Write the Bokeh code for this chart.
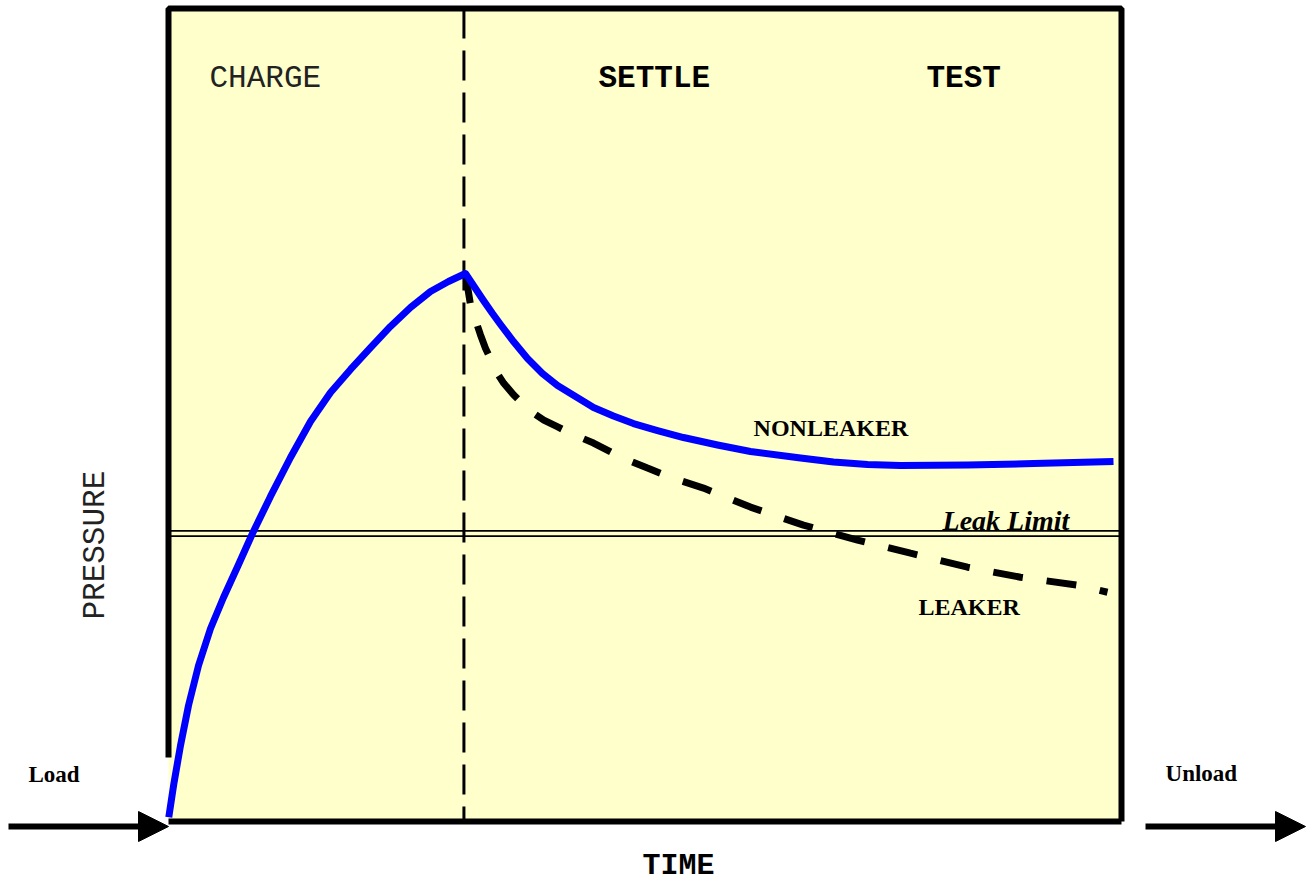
import math
from bokeh.plotting import figure
from bokeh.models import Range1d, Arrow, NormalHead
from bokeh.core.properties import value
from bokeh.embed import file_html
from bokeh.resources import INLINE

# ---- data (time / pressure in arbitrary units: box spans 0..100 on both) ----
charge_t = [0.03, 0.56, 1.26, 2.10, 3.15, 4.41, 5.77, 7.35, 8.81, 10.70, 12.80,
            14.90, 17.00, 19.10, 21.20, 23.29, 25.39, 27.49, 29.38, 31.16]
charge_p = [0.53, 4.64, 9.35, 14.27, 19.19, 23.74, 27.55, 31.61, 35.42, 39.98, 44.77,
            49.20, 52.77, 55.60, 58.30, 60.89, 63.22, 65.19, 66.42, 67.40]

nonleak_t = [31.16, 32.21, 33.05, 34.00, 34.84, 36.20, 37.67, 39.24, 40.82, 42.71,
             44.60, 46.69, 48.79, 51.31, 54.04, 57.61, 61.07, 66.32, 69.78, 73.35,
             76.81, 83.84, 90.77, 99.16]
nonleak_p = [67.40, 65.56, 64.08, 62.48, 61.13, 59.04, 56.95, 55.10, 53.63, 52.28,
             50.92, 49.88, 48.95, 48.09, 47.23, 46.31, 45.51, 44.71, 44.22, 43.91,
             43.79, 43.85, 44.03, 44.28]

leak_t = [31.16, 31.69, 32.21, 32.74, 33.26, 33.79, 34.49, 35.18, 36.23, 37.12,
          38.33, 39.38, 40.79, 42.18, 44.60, 47.43, 50.26, 52.89, 56.14, 61.07,
          66.63, 72.30, 77.86, 83.84, 89.40, 95.38, 98.53]
leak_p = [67.40, 63.55, 61.70, 59.85, 58.21, 56.90, 55.14, 53.90, 52.46, 51.44,
          50.21, 49.38, 48.56, 47.75, 46.55, 44.83, 43.47, 42.24, 41.01, 38.67,
          36.45, 34.61, 33.00, 31.28, 30.05, 29.06, 28.20]

phase_boundary_t = 31.0      # end of CHARGE phase
leak_limit_p = 35.41         # leak limit pressure
box_t = [0, 100]
box_p = [0, 100]

phase_labels = ["CHARGE", "SETTLE", "TEST"]
curve_labels = ["NONLEAKER", "LEAKER"]

# ---- figure ----
W, H = 1307, 882
p = figure(width=W, height=H, output_backend="svg", toolbar_location=None,
           x_range=Range1d(-17.629, 119.518), y_range=Range1d(-7.503, 100.984),
           min_border=0, background_fill_color="white", border_fill_color="white")
p.axis.visible = False
p.grid.visible = False
p.outline_line_color = None

t0, t1 = box_t
p0, p1 = box_p
px_y = 1 / 8.13   # data units per pixel (vertical)

# box fill
p.quad(left=[t0], right=[t1], bottom=[p0], top=[p1], fill_color="#FFFFCC", line_color=None)

# leak limit double line
for off in (+2.7, -2.6):
    p.line([t0, t1], [leak_limit_p + off * px_y] * 2, line_color="black", line_width=1.8)

# phase boundary
p.line([phase_boundary_t] * 2, [p1, p0], line_color="black", line_width=3, line_dash="30 12")

# curves
p.line(leak_t, leak_p, line_color="black", line_width=7, line_dash="30 24")
p.line(charge_t + nonleak_t[1:], charge_p + nonleak_p[1:], line_color="#0000FF",
       line_width=7, line_join="round")

# box border (left border stops short of the bottom)
p.line([t0, t0, t1, t1], [p0 + 7.88, p1, p1, p0], line_color="black", line_width=6)
p.line([t0, t1], [p0, p0], line_color="black", line_width=6)

# arrows
arrow_y = p0 - 5 * px_y
p.add_layout(Arrow(end=NormalHead(size=30, fill_color="black", line_color="black"),
                   x_start=-16.79, y_start=arrow_y, x_end=t0, y_end=arrow_y,
                   line_color="black", line_width=6))
p.add_layout(Arrow(end=NormalHead(size=30, fill_color="black", line_color="black"),
                   x_start=102.52, y_start=arrow_y, x_end=119.31, y_end=arrow_y,
                   line_color="black", line_width=6))

mono = value("Liberation Mono")
serif = value("Liberation Serif")

# phase labels
p.text(x=[4.30], y=[91.37], text=[phase_labels[0]], text_font=mono, text_font_size="31px",
       text_color="#222222", text_baseline="alphabetic", text_align="left")
p.text(x=[45.12, 79.54], y=[91.37, 91.37], text=phase_labels[1:], text_font=mono,
       text_font_size="31px", text_font_style="bold", text_color="black",
       text_baseline="alphabetic", text_align="left")

# curve labels
p.text(x=[61.39, 78.70], y=[48.46, 26.35], text=curve_labels, text_font=serif,
       text_font_size="24px", text_font_style="bold", text_color="black",
       text_baseline="alphabetic", text_align="left")
p.text(x=[81.22], y=[37.06], text=["Leak Limit"], text_font=serif, text_font_size="28px",
       text_font_style="bold italic", text_color="black",
       text_baseline="alphabetic", text_align="left")

# load / unload
p.text(x=[-14.69, 104.62], y=[5.84, 5.91], text=["Load", "Unload"], text_font=serif,
       text_font_size="23px", text_font_style="bold", text_color="black",
       text_baseline="alphabetic", text_align="left")

# axis titles
p.text(x=[-7.61], y=[33.99], text=["PRESSURE"], text_font=mono, text_font_size="31px",
       text_color="#222222", angle=math.pi / 2, text_baseline="middle", text_align="center")
p.text(x=[49.74], y=[-5.45], text=["TIME"], text_font=mono, text_font_size="30px",
       text_font_style="bold", text_color="black", text_baseline="alphabetic",
       text_align="left")

open("out.html", "w").write(file_html(p, INLINE))
